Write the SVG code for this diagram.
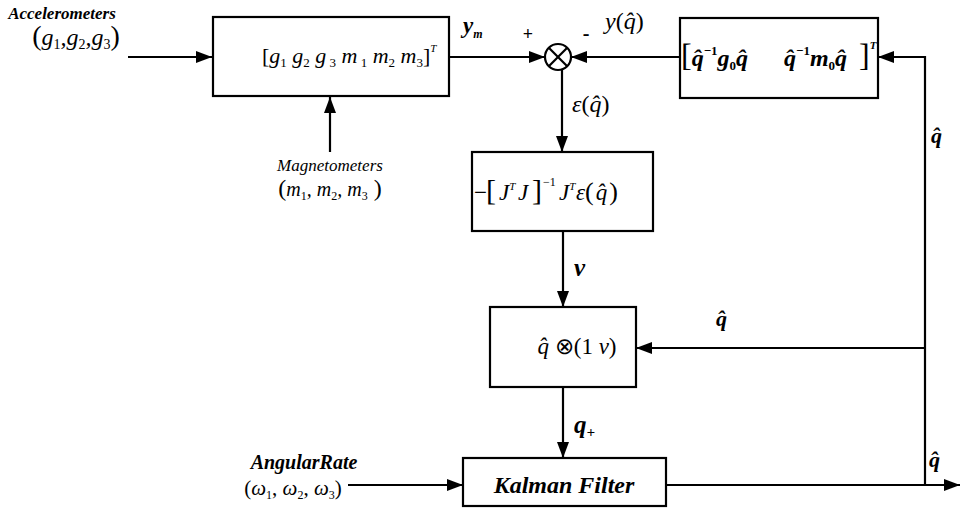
<svg xmlns="http://www.w3.org/2000/svg" width="962" height="511" viewBox="0 0 962 511">
<defs>
<marker id="ahb" viewBox="0 0 16 12" refX="16" refY="6" markerWidth="16" markerHeight="12" markerUnits="userSpaceOnUse" orient="auto">
<path d="M0,0 L16,6 L0,12 z" fill="#000"/>
</marker>
</defs>

<g id="connectors" fill="none" stroke="#000" stroke-width="2.2">
<line x1="128" y1="57" x2="212" y2="57" marker-end="url(#ahb)"/>
<line x1="330" y1="152" x2="330" y2="97" marker-end="url(#ahb)"/>
<line x1="449" y1="57" x2="545" y2="57" marker-end="url(#ahb)"/>
<line x1="680" y1="57" x2="571" y2="57" marker-end="url(#ahb)"/>
<line x1="562" y1="70" x2="562" y2="152" marker-end="url(#ahb)"/>
<line x1="563" y1="231" x2="563" y2="307" marker-end="url(#ahb)"/>
<polyline points="925,485 925,57 878,57" marker-end="url(#ahb)"/>
<line x1="925" y1="348" x2="636" y2="348" marker-end="url(#ahb)"/>
<line x1="563" y1="387" x2="563" y2="458" marker-end="url(#ahb)"/>
<line x1="348" y1="485" x2="463" y2="485" marker-end="url(#ahb)"/>
<line x1="666" y1="485" x2="960" y2="485" marker-end="url(#ahb)"/>
</g>

<g id="accel-input">
<text font-family="Liberation Serif" x="62" y="19" font-size="17" font-style="italic" font-weight="bold" text-anchor="middle">Accelerometers</text>
<text font-family="Liberation Serif" x="76" y="45" font-size="24" font-style="italic" text-anchor="middle"><tspan font-style="normal" font-size="28">(</tspan>g<tspan font-size="14" font-style="normal" dy="4">1</tspan><tspan dy="-4">,g</tspan><tspan font-size="14" font-style="normal" dy="4">2</tspan><tspan dy="-4">,g</tspan><tspan font-size="14" font-style="normal" dy="4">3</tspan><tspan font-style="normal" font-size="28" dy="-4">)</tspan></text>
</g>

<g id="mag-input">
<text font-family="Liberation Serif" x="330" y="171" font-size="17" font-style="italic" text-anchor="middle">Magnetometers</text>
<text font-family="Liberation Serif" x="330" y="196" font-size="20" font-style="italic" text-anchor="middle"><tspan font-style="normal" font-size="24">(</tspan>m<tspan font-size="12" font-style="normal" dy="4">1</tspan><tspan dy="-4">, m</tspan><tspan font-size="12" font-style="normal" dy="4">2</tspan><tspan dy="-4">, m</tspan><tspan font-size="12" font-style="normal" dy="4">3</tspan><tspan font-style="normal" font-size="24" dy="-4"> )</tspan></text>
</g>

<g id="sensor-box">
<rect fill="#fff" stroke="#000" stroke-width="2.2" x="213" y="17" width="236" height="79"/>
<text font-family="Liberation Serif" x="262" y="63" font-size="22" font-style="italic"><tspan font-style="normal">[</tspan>g<tspan font-size="13" font-style="normal" dy="4">1</tspan><tspan dy="-4">  g</tspan><tspan font-size="13" font-style="normal" dy="4">2</tspan><tspan dy="-4">  g</tspan><tspan font-size="13" font-style="normal" dy="4"> 3</tspan><tspan dy="-4">  m</tspan><tspan font-size="13" font-style="normal" dy="4"> 1</tspan><tspan dy="-4">  m</tspan><tspan font-size="13" font-style="normal" dy="4">2</tspan><tspan dy="-4">  m</tspan><tspan font-size="13" font-style="normal" dy="4">3</tspan><tspan font-style="normal" dy="-4">]</tspan><tspan font-size="11" dy="-11">T</tspan></text>
</g>

<g id="sum" fill="none" stroke="#000" stroke-width="2.2">
<circle cx="558" cy="57" r="13" fill="#fff"/>
<line x1="548.8" y1="47.8" x2="567.2" y2="66.2"/>
<line x1="567.2" y1="47.8" x2="548.8" y2="66.2"/>
</g>

<g id="model-box">
<rect fill="#fff" stroke="#000" stroke-width="2.2" x="680" y="18" width="198" height="80"/>
<text font-family="Liberation Serif" x="681" y="66" font-size="24" font-style="italic" font-weight="bold"><tspan font-style="normal" font-weight="normal" font-size="32">[</tspan>q̂<tspan font-size="13" font-style="normal" dy="-11">−1</tspan><tspan dy="11">g</tspan><tspan font-size="13" font-style="normal" dy="4">0</tspan><tspan dy="-4">q̂</tspan><tspan x="784">q̂</tspan><tspan font-size="13" font-style="normal" dy="-11">−1</tspan><tspan dy="11">m</tspan><tspan font-size="13" font-style="normal" dy="4">0</tspan><tspan dy="-4">q̂</tspan><tspan x="859" font-style="normal" font-weight="normal" font-size="32">]</tspan><tspan font-size="11" dy="-17">T</tspan></text>
</g>

<g id="gain-box">
<rect fill="#fff" stroke="#000" stroke-width="2.2" x="472" y="152" width="181" height="79"/>
<text font-family="Liberation Serif" x="474" y="200" font-size="23" font-style="italic"><tspan font-style="normal">−</tspan><tspan x="486" font-style="normal" font-size="30">[</tspan><tspan x="499">J</tspan><tspan font-size="11" dy="-10">T</tspan><tspan x="518" dy="10">J</tspan><tspan x="532" font-style="normal" font-size="30">]</tspan><tspan x="543" font-style="normal" font-size="12" dy="-14">−1</tspan><tspan x="559" dy="14">J</tspan><tspan font-size="11" dy="-10">T</tspan><tspan x="576" dy="10">ε</tspan><tspan font-style="normal" font-size="26">(</tspan><tspan dx="2">q̂</tspan><tspan dx="2" font-style="normal" font-size="26">)</tspan></text>
</g>

<g id="update-box">
<rect fill="#fff" stroke="#000" stroke-width="2.2" x="490" y="307" width="146" height="80"/>
<text font-family="Liberation Serif" x="577" y="354" font-size="23" font-style="italic" text-anchor="middle">q̂ <tspan font-style="normal">⊗(1  </tspan>ν<tspan font-style="normal">)</tspan></text>
</g>

<g id="kalman-box">
<rect fill="#fff" stroke="#000" stroke-width="2.2" x="463" y="458" width="203" height="48"/>
<text font-family="Liberation Serif" x="564" y="493" font-size="24" font-style="italic" font-weight="bold" text-anchor="middle">Kalman Filter</text>
</g>

<g id="rate-input">
<text font-family="Liberation Serif" x="304" y="469" font-size="20" font-style="italic" font-weight="bold" text-anchor="middle">AngularRate</text>
<text font-family="Liberation Serif" x="293" y="495" font-size="21" text-anchor="middle">(<tspan font-style="italic">ω</tspan><tspan font-size="12" dy="4">1</tspan><tspan dy="-4">, </tspan><tspan font-style="italic">ω</tspan><tspan font-size="12" dy="4">2</tspan><tspan dy="-4">, </tspan><tspan font-style="italic">ω</tspan><tspan font-size="12" dy="4">3</tspan><tspan dy="-4">)</tspan></text>
</g>

<g id="labels">
<text font-family="Liberation Serif" font-style="italic" x="463" y="33" font-size="23" font-weight="bold">y<tspan font-size="12" dy="5">m</tspan></text>
<text font-family="Liberation Serif" x="528" y="40" font-size="18" font-weight="bold" text-anchor="middle">+</text>
<text font-family="Liberation Serif" x="586" y="40" font-size="20" font-weight="bold" text-anchor="middle">-</text>
<text font-family="Liberation Serif" font-style="italic" x="605" y="29" font-size="24">y<tspan font-style="normal">(</tspan>q̂<tspan font-style="normal">)</tspan></text>
<text font-family="Liberation Serif" font-style="italic" x="572" y="112" font-size="24">ε<tspan font-style="normal">(</tspan>q̂<tspan font-style="normal">)</tspan></text>
<text font-family="Liberation Serif" font-style="italic" x="931" y="143" font-size="22" font-weight="bold">q̂</text>
<text font-family="Liberation Serif" font-style="italic" x="574" y="276" font-size="25" font-weight="bold">ν</text>
<text font-family="Liberation Serif" font-style="italic" x="716" y="326" font-size="22" font-weight="bold">q̂</text>
<text font-family="Liberation Serif" font-style="italic" x="574" y="433" font-size="25" font-weight="bold">q<tspan font-size="15" dy="4">+</tspan></text>
<text font-family="Liberation Serif" font-style="italic" x="929" y="467" font-size="22" font-weight="bold">q̂</text>
</g>
</svg>
